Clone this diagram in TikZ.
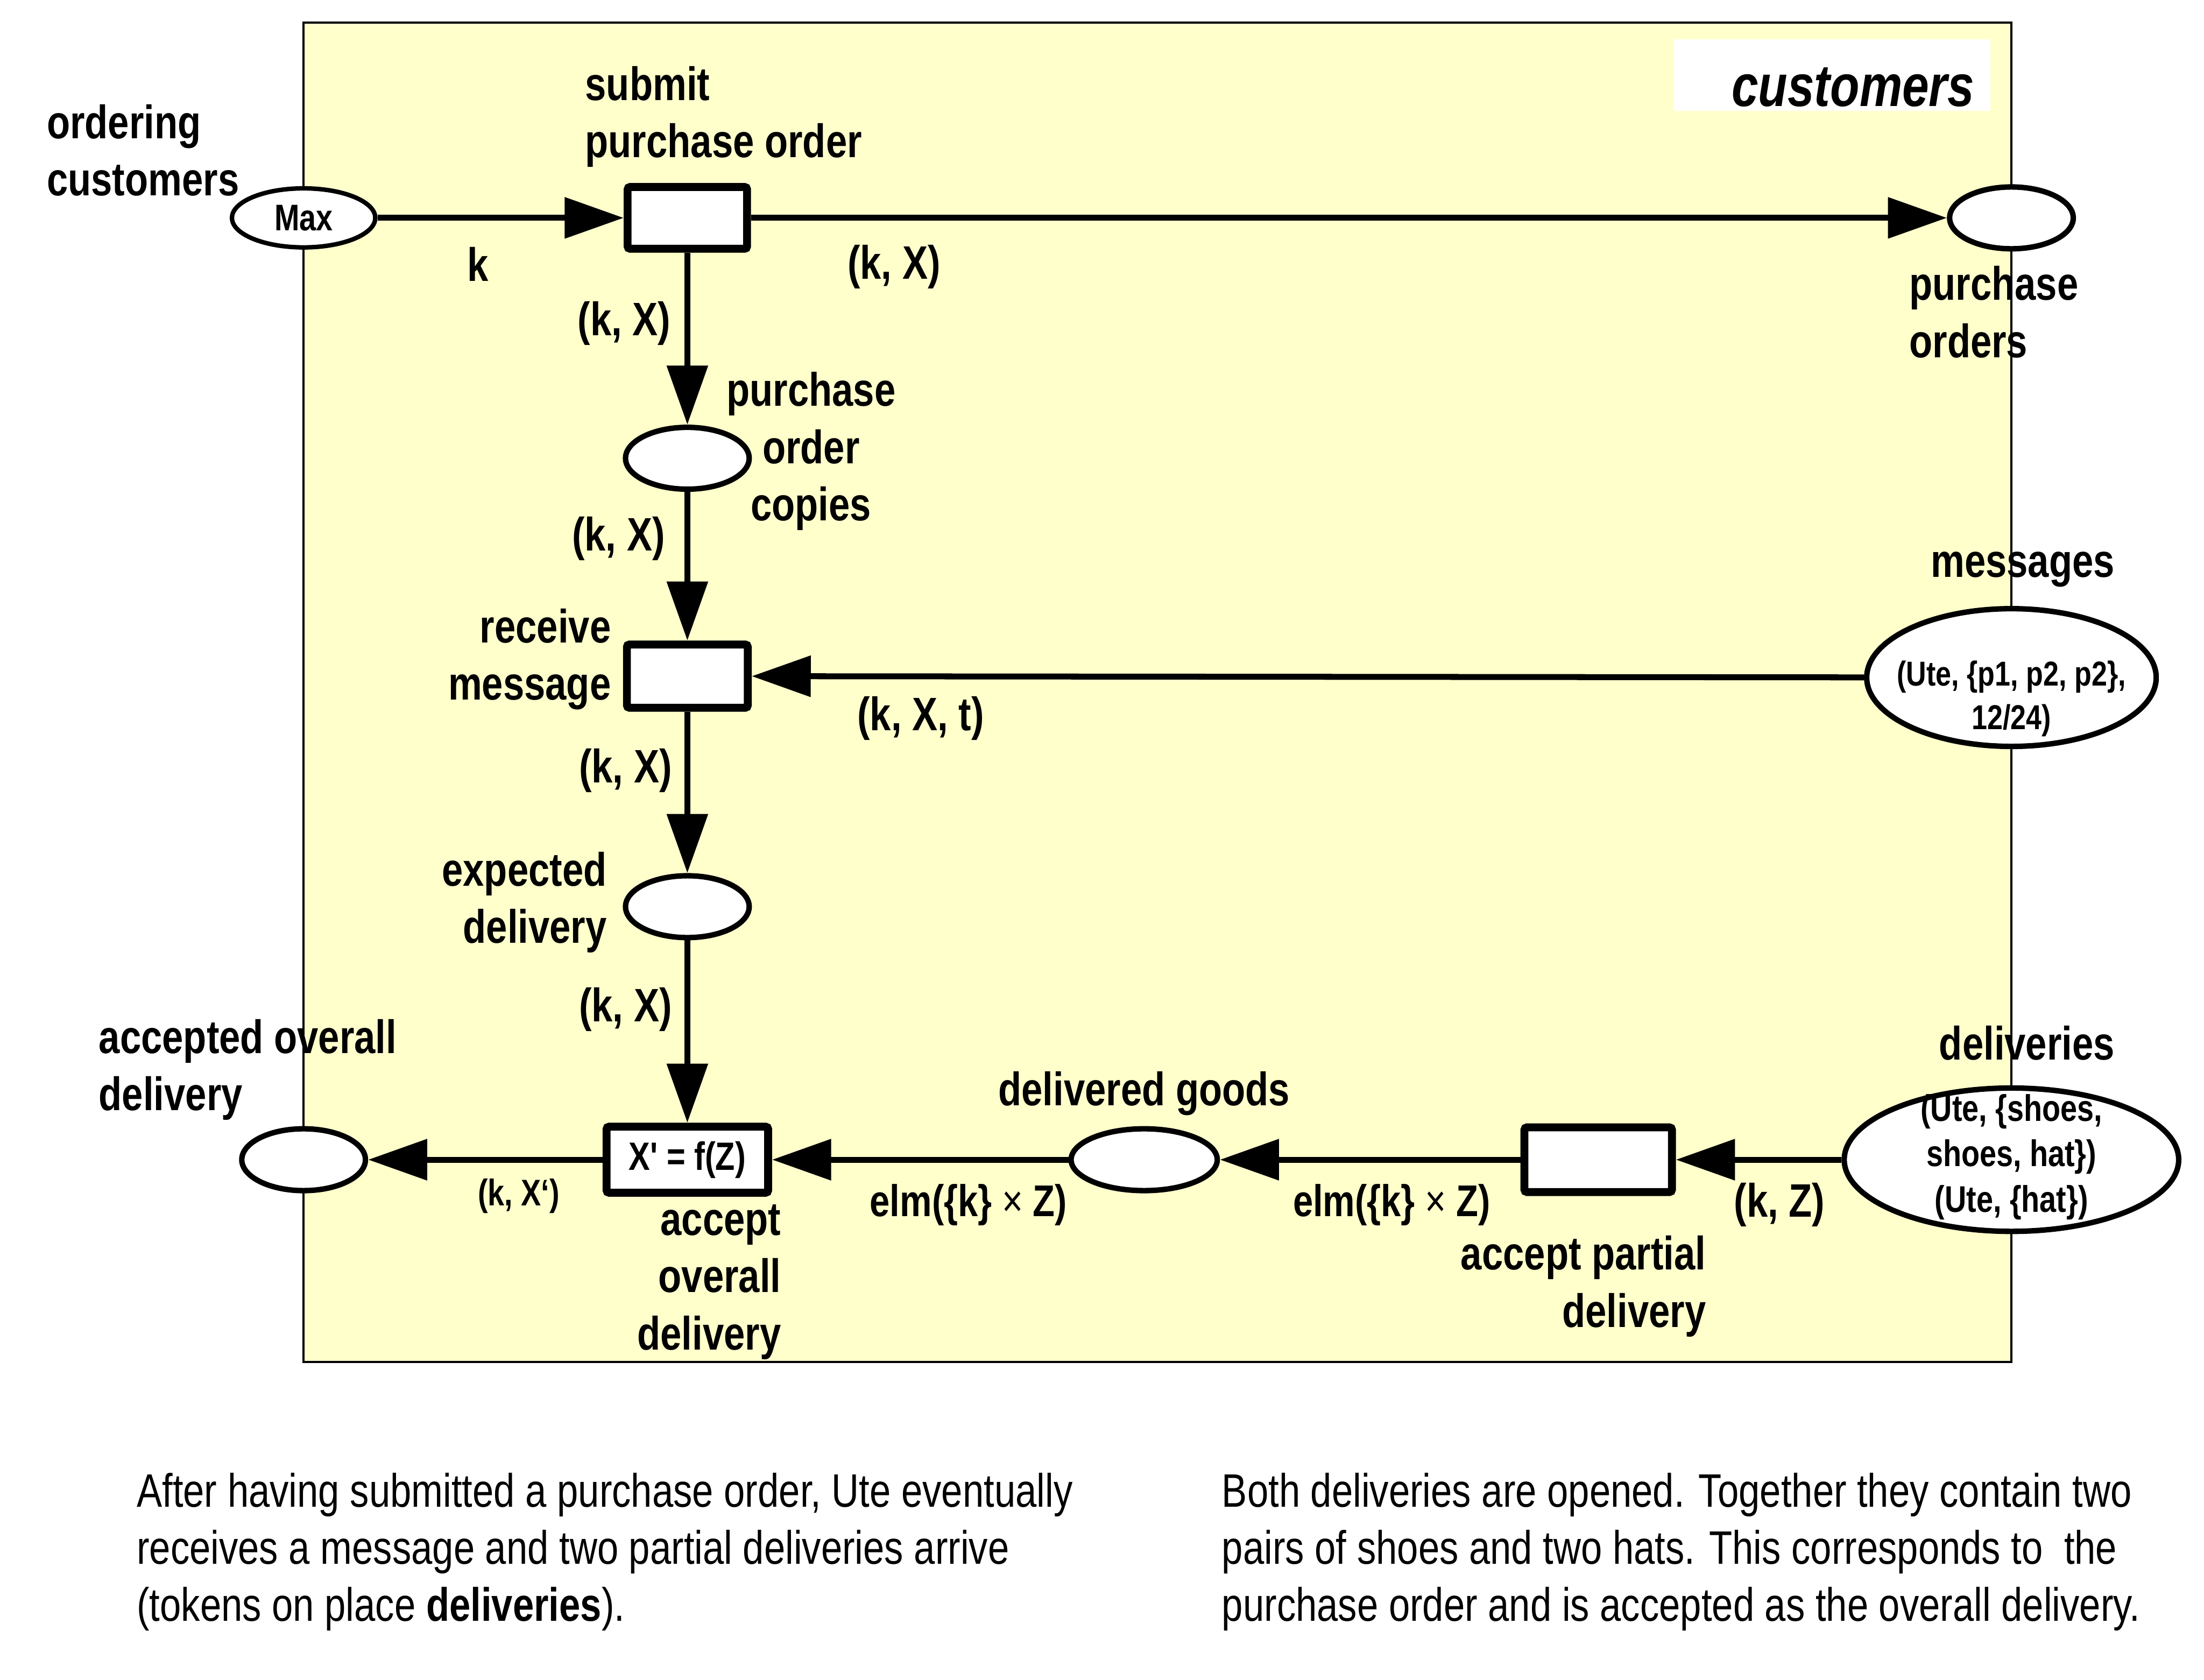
\documentclass[tikz,border=0pt]{standalone}
\usepackage{fontspec}
\setmainfont{Liberation Sans}[FakeStretch=0.81]
\newfontfamily\plainquote{Liberation Sans}[FakeStretch=0.81]
\usepackage{xcolor}
\usepackage{tikz}
\usetikzlibrary{shapes.geometric}
\usetikzlibrary{arrows.meta}
\definecolor{netyellow}{RGB}{255,255,204}

\begin{document}
\begin{tikzpicture}[x=0.02cm,y=-0.02cm,
	place/.style={draw,ellipse,line width=2.2pt,fill=white,inner sep=0pt},
	trans/.style={draw,rectangle,line width=3.2pt,rounded corners=1pt,fill=white,inner sep=0pt},
	arc/.style={line width=2.4pt,-{Triangle[length=0.84cm,width=0.57cm]}},
	lbl/.style={font=\fontsize{19}{23.2}\selectfont\bfseries,inner sep=0pt},
	tok/.style={font=\fontsize{15}{18.4}\selectfont\bfseries,inner sep=0pt,align=center},
	note/.style={font=\fontsize{19}{23}\selectfont,inner sep=0pt,align=left,anchor=west}]
	\useasboundingbox (0,0) rectangle (1568,1195);
	\draw[line width=0.8pt,fill=netyellow] (216,16) rectangle (1431,969);
	\fill[white] (1191,28) rectangle (1416,79);
	\node[anchor=east,inner sep=0pt,font=\fontsize{24}{28}\selectfont\bfseries\itshape] (title) at (1405,62) {customers};

	\node[place,line width=1.8pt,minimum width=2.04cm,minimum height=0.84cm,font=\fontsize{15}{18}\selectfont\bfseries] (ordering) at (216,155) {Max};
	\node[trans,minimum width=1.70cm,minimum height=0.88cm] (submit) at (489,155) {};
	\node[place,minimum width=1.76cm,minimum height=0.88cm] (porders) at (1431,155) {};
	\node[place,minimum width=1.76cm,minimum height=0.88cm] (copies) at (489,326) {};
	\node[trans,minimum width=1.72cm,minimum height=0.90cm] (receive) at (489,481) {};
	\node[place,minimum width=4.12cm,minimum height=1.96cm] (messages) at (1431,482) {};
	\node[tok,font=\fontsize{14}{17.6}\selectfont\bfseries] (msgtok) at (1431,497) {(Ute, \{p1, p2, p2\},\\12/24)};
	\node[place,minimum width=1.76cm,minimum height=0.88cm] (expected) at (489,645) {};
	\node[trans,minimum width=2.30cm,minimum height=0.94cm,font=\fontsize{16}{19}\selectfont\bfseries\plainquote] (overall) at (489,825) {X' = f(Z)};
	\node[place,minimum width=1.76cm,minimum height=0.88cm] (accepted) at (216,825) {};
	\node[place,minimum width=2.08cm,minimum height=0.88cm] (goods) at (814,825) {};
	\node[trans,minimum width=2.10cm,minimum height=0.92cm] (partial) at (1137,825) {};
	\node[place,minimum width=4.76cm,minimum height=2.04cm] (deliveries) at (1431,825) {};
	\node[tok] (deltok) at (1431,823) {(Ute, \{shoes,\\shoes, hat\})\\(Ute, \{hat\})};

	\draw[arc] (ordering) -- (submit);
	\draw[arc] (submit) -- (porders);
	\draw[arc] (submit) -- (copies);
	\draw[arc] (copies) -- (receive);
	\draw[arc] (messages) -- (receive);
	\draw[arc] (receive) -- (expected);
	\draw[arc] (expected) -- (overall);
	\draw[arc] (overall) -- (accepted);
	\draw[arc] (goods) -- (overall);
	\draw[arc] (partial) -- (goods);
	\draw[arc] (deliveries) -- (partial);

	\node[lbl] (k1) at (340,188) {k};
	\node[lbl] (kx1) at (636,190) {(k, X)};
	\node[lbl] (kx2) at (444,230) {(k, X)};
	\node[lbl] (kx3) at (440,383) {(k, X)};
	\node[lbl] (kxt) at (655,511) {(k, X, t)};
	\node[lbl] (kx4) at (445,548) {(k, X)};
	\node[lbl] (kx5) at (445,718) {(k, X)};
	\node[lbl,font=\fontsize{15}{18}\selectfont\bfseries] (kxp) at (369,851) {(k, X‘)};
	\node[lbl,font=\fontsize{18}{22}\selectfont\bfseries] (elm1) at (689,857) {elm(\{k\} {\mdseries ×} Z)};
	\node[lbl,font=\fontsize{18}{22}\selectfont\bfseries] (elm2) at (990,857) {elm(\{k\} {\mdseries ×} Z)};
	\node[lbl] (kz) at (1266,857) {(k, Z)};

	\node[lbl,anchor=west,align=left] at (33,107) {ordering\\customers};
	\node[lbl,anchor=west,align=left] at (416,83) {submit\\purchase order};
	\node[lbl,anchor=west,align=left] at (1358,222) {purchase\\orders};
	\node[lbl,align=center] at (577,321) {purchase\\order\\copies};
	\node[lbl,anchor=east,align=right] at (435,469) {receive\\message};
	\node[lbl] at (1439,405) {messages};
	\node[lbl,anchor=east,align=right] at (432,642) {expected\\delivery};
	\node[lbl,anchor=west,align=left] at (70,761) {accepted overall\\delivery};
	\node[lbl,anchor=east,align=right] at (556,912) {accept\\overall\\delivery};
	\node[lbl] at (814,778) {delivered goods};
	\node[lbl,anchor=east,align=right] at (1214,915) {accept partial\\delivery};
	\node[lbl] at (1442,742) {deliveries};

	\node[note] (noteleft) at (97,1104) {After having submitted a purchase order, Ute eventually\\receives a message and two partial deliveries arrive\\(tokens on place \textbf{deliveries}).};
	\node[note] (noteright) at (869,1104) {Both deliveries are opened. Together they contain two\\pairs of shoes and two hats. This corresponds to\ \ the\\purchase order and is accepted as the overall delivery.};
\end{tikzpicture}
\end{document}
